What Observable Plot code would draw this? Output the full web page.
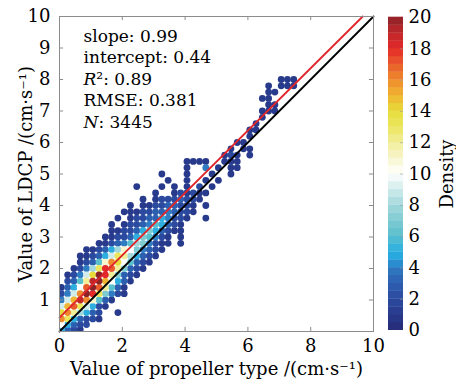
<!DOCTYPE html>
<html><head><meta charset="utf-8">
<script src="https://cdn.jsdelivr.net/npm/d3@7"></script>
<script src="https://cdn.jsdelivr.net/npm/@observablehq/plot@0.6"></script>
<style>
body{margin:0;background:#fff;}
#wrap{position:relative;width:456px;height:386px;}
#main,#cbar{position:absolute;top:0;}
#main{left:0;}
#cbar{left:380px;}
</style></head><body><div id="wrap"><div id="main"></div><div id="cbar"></div></div>
<script>
// ---- data ----
const xTicks = [0, 2, 4, 6, 8, 10];
const yTicks = [1, 2, 3, 4, 5, 6, 7, 8, 9, 10];
const densityTicks = [0, 2, 4, 6, 8, 10, 12, 14, 16, 18, 20];
const colorStops = [0, 1, 2, 3, 4, 4.6, 5.4, 6, 7, 8, 9, 10, 11, 12, 13, 14, 15, 16, 17, 18, 19, 20];
const colorValues = ["#262b78", "#283a8c", "#2b4a9f", "#2d5fb0", "#2f7cc3", "#22a5df", "#3ab6dc", "#5abfcc", "#7ecbd2", "#a3d8dc", "#d2ecec", "#ffffff", "#f7f5cc", "#f1ee9a", "#ebe65c", "#e6dc3a", "#f0b532", "#ee8a2d", "#e95b2a", "#e32a29", "#c0272b", "#8a2328"];
const fitSlope = 0.99;
const fitIntercept = 0.44;
const statLines = ["slope: 0.99", "intercept: 0.44", "R²: 0.89", "RMSE: 0.381", "N: 3445"];
const xLabel = "Value of propeller type /(cm·s⁻¹)";
const yLabel = "Value of LDCP /(cm·s⁻¹)";
const colorLabel = "Density";

// binned point density: grid columns every 0.2 (first column at 0.06),
// one string per row, chars = density in base 36 ('.' = no point)
const colX0 = 0.06, colStep = 0.2;
const rowY = [8.0, 7.8, 7.6, 7.4, 7.2, 7.0, 6.8, 6.6, 6.4, 6.2, 6.0, 5.8, 5.6, 5.4, 5.2, 5.0, 4.8, 4.6, 4.4, 4.2, 4.0, 3.8, 3.6, 3.4, 3.2, 3.0, 2.8, 2.6, 2.4, 2.2, 2.0, 1.8, 1.6, 1.4, 1.2, 1.0, 0.8, 0.6, 0.4, 0.22, 0.07];
const rowStart = [35, 33, 33, 32, 33, 32, 32, 31, 30, 30, 28, 27, 26, 20, 20, 16, 17, 12, 15, 13, 11, 10, 9, 8, 8, 7, 6, 4, 3, 3, 2, 1, 1, 0, 0, 0, 0, 0, 0, 0, 0];
const rowDensity = [
  "111",
  "1.111",
  "11",
  "11",
  "11",
  "111",
  "1",
  "1",
  "11",
  "1",
  "11",
  "1.11",
  "121.1",
  "1111..111",
  "1..4.1.11",
  "1...1...1..1",
  "1..1..1.1",
  "1...1.1.1.2.1",
  "1..121211",
  "1.12223221",
  "1.112233221.1",
  "111223343221",
  "1.1223354221..1",
  "1.1223465321",
  "112235753211",
  "11223576421.1",
  "112346874211.1",
  "112358ba74321",
  "112359dc85321",
  "1236bgea6321",
  "1248dihc7321",
  "1249ekic7321",
  "236cjkfa531",
  "135ahkhc631",
  "249gkid7421",
  "49fjgb631",
  "9fhd9521",
  "egc8532..1",
  "gd53221",
  "a5322",
  "5321"
];

// ---- build tables ----
const cells = [];
rowY.forEach((y, j) => {
  [...rowDensity[j]].forEach((c, k) => {
    if (c !== ".") cells.push({x: colX0 + colStep * (rowStart[j] + k), y, density: parseInt(c, 36)});
  });
});
cells.sort((a, b) => a.density - b.density);
const fitLine = [0, (10 - fitIntercept) / fitSlope].map(x => ({x, y: fitSlope * x + fitIntercept}));
const identityLine = [{x: 0, y: 0}, {x: 10, y: 10}];
const colorScale = {type: "linear", domain: colorStops, range: colorValues, interpolate: "rgb"};
const font = "'DejaVu Serif', serif";
const frameColor = "#8c8c8c";

const main = Plot.plot({
  width: 456, height: 386,
  marginLeft: 59, marginRight: 83, marginTop: 16, marginBottom: 55,
  style: {fontFamily: font, fontSize: "18px", color: "#000", background: "transparent"},
  x: {domain: [0, 10], label: null},
  y: {domain: [0, 10], label: null},
  color: colorScale,
  marks: [
    Plot.dot(cells, {x: "x", y: "y", r: 3.4, fill: "density", clip: true}),
    Plot.line(identityLine, {x: "x", y: "y", stroke: "#000", strokeWidth: 1.8}),
    Plot.line(fitLine, {x: "x", y: "y", stroke: "#e0262b", strokeWidth: 1.8}),
    Plot.frame({stroke: frameColor}),
    Plot.ruleX(xTicks, {x: d => d, y1: 0, y2: 0.13, stroke: frameColor}),
    Plot.ruleX(xTicks, {x: d => d, y1: 9.87, y2: 10, stroke: frameColor}),
    Plot.ruleY(yTicks, {y: d => d, x1: 0, x2: 0.13, stroke: frameColor}),
    Plot.ruleY(yTicks, {y: d => d, x1: 9.87, x2: 10, stroke: frameColor}),
    Plot.axisX({ticks: xTicks, tickSize: 0, tickPadding: 8, label: xLabel, labelAnchor: "center", labelArrow: "none", labelOffset: 43}),
    Plot.axisY({ticks: yTicks, tickSize: 0, tickPadding: 9, label: yLabel, labelAnchor: "center", labelArrow: "none", labelOffset: 40}),
    Plot.text([statLines.join("\n")], {frameAnchor: "top-left", dx: 24, dy: 10, lineAnchor: "top", textAnchor: "start", lineHeight: 1.265, fontSize: 17, fill: "#000"})
  ]
});
document.getElementById("main").appendChild(main);

// italic R and N in the statistics block
d3.select(main).selectAll("tspan").each(function() {
  const t = this.textContent;
  if (t === "R²: 0.89" || t === "N: 3445") {
    const sel = d3.select(this);
    sel.text("");
    sel.append("tspan").attr("font-style", "italic").text(t[0]);
    sel.append("tspan").text(t.slice(1));
  }
});

const cbSteps = d3.range(0, 20, 0.5);
const cbar = Plot.plot({
  width: 76, height: 386,
  marginLeft: 8, marginRight: 53, marginTop: 17, marginBottom: 56,
  style: {fontFamily: font, fontSize: "18px", color: "#000", background: "transparent"},
  x: {domain: [0, 1], axis: null},
  y: {domain: [0, 20], label: null},
  color: colorScale,
  marks: [
    Plot.rect(cbSteps, {x1: 0, x2: 1, y1: d => d, y2: d => d + 0.52, fill: d => d + 0.25}),
    Plot.ruleY(densityTicks.slice(1, -1), {y: d => d, x1: 0.8, x2: 1, stroke: "#999", strokeOpacity: 0.6}),
    Plot.axisY({anchor: "right", ticks: densityTicks, tickSize: 0, tickPadding: 5, label: colorLabel, labelAnchor: "center", labelArrow: "none", labelOffset: 49})
  ]
});
document.getElementById("cbar").appendChild(cbar);
</script>
</body></html>
